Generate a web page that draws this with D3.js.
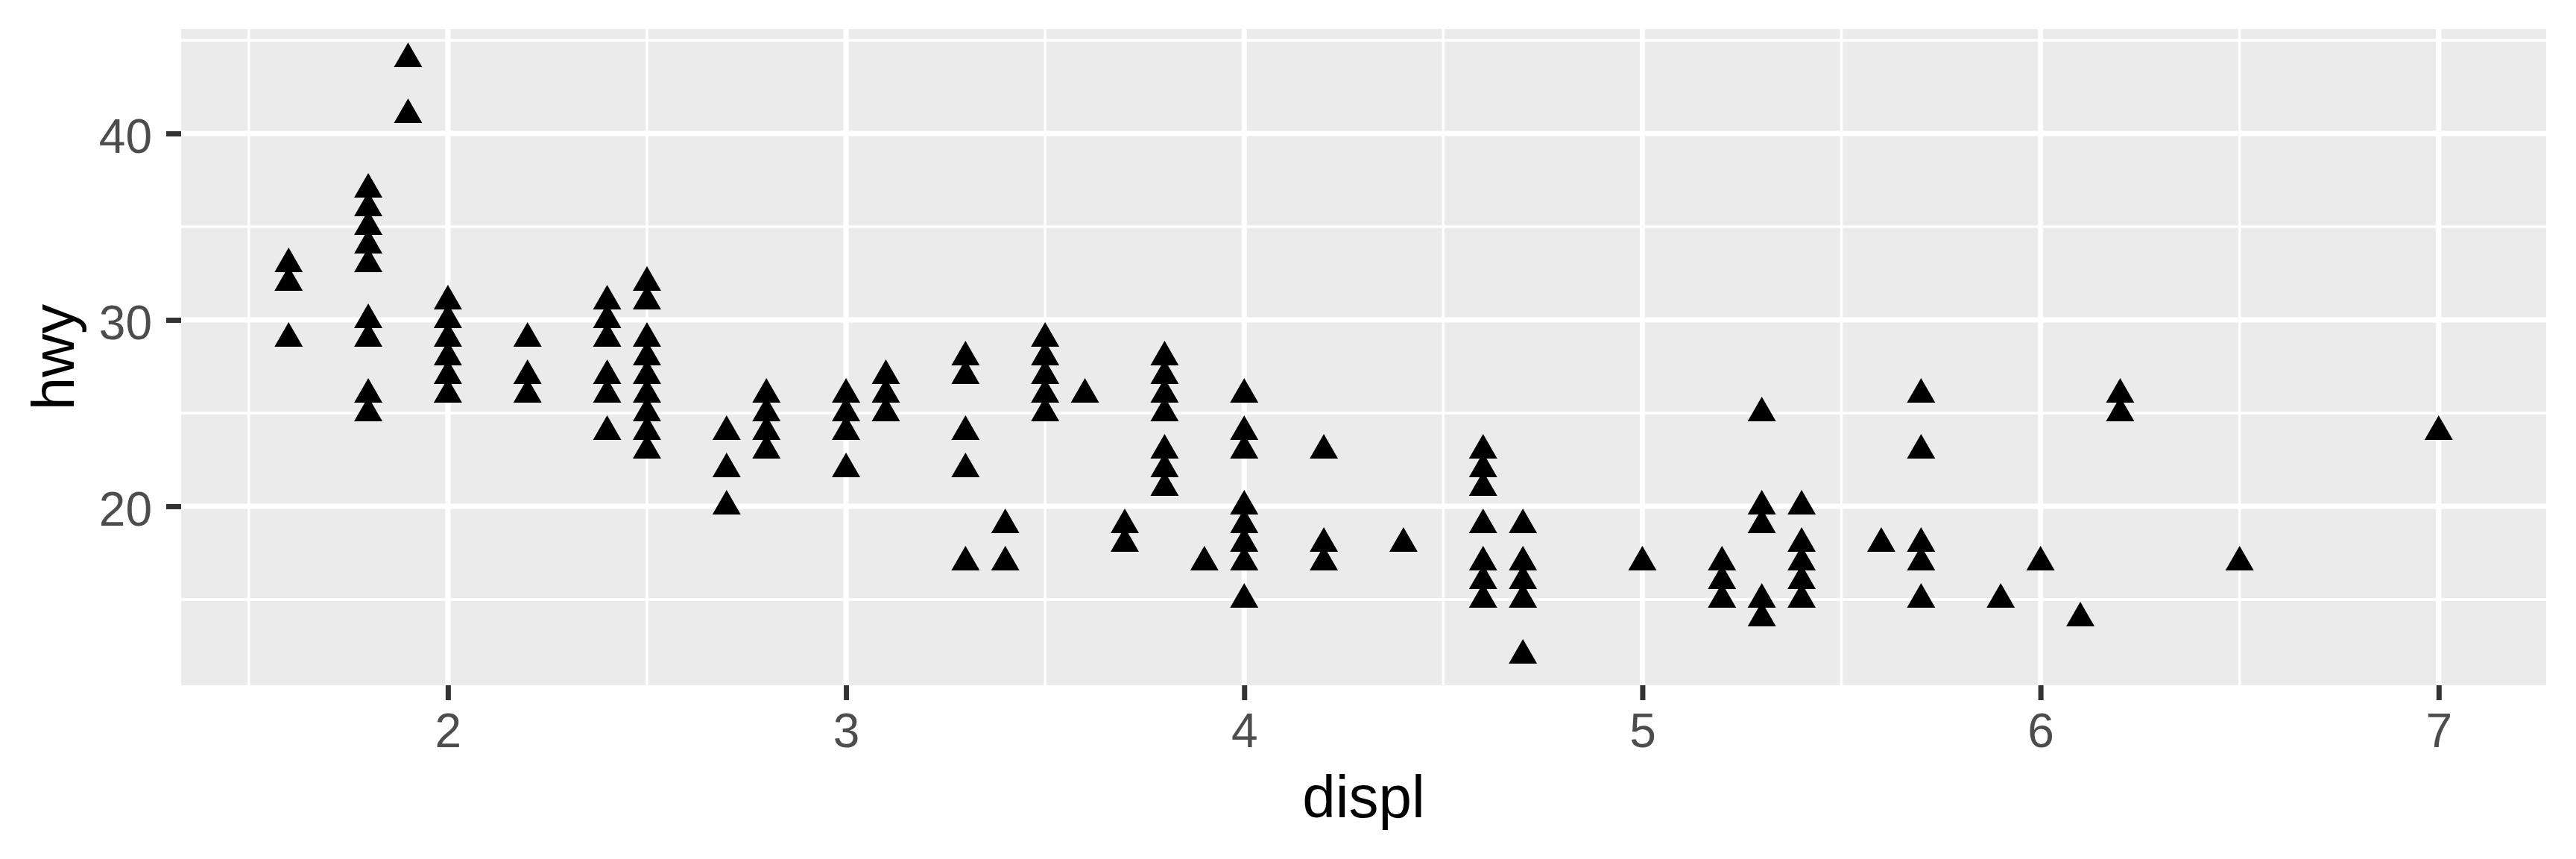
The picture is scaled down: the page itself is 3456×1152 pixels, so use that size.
<!DOCTYPE html>
<html>
<head>
<meta charset="utf-8">
<script src="https://d3js.org/d3.v7.min.js"></script>
<style>
  body { margin: 0; background: #fff; }
  text { font-family: "Liberation Sans", Arial, sans-serif; }
</style>
</head>
<body>
<svg id="chart" width="3456" height="1152"></svg>

<script>
  // points (one entry per visible triangle)
  const displ = [
    1.6, 1.6, 1.6,
    1.8, 1.8, 1.8, 1.8, 1.8, 1.8, 1.8, 1.8, 1.8,
    1.9, 1.9,
    2.0, 2.0, 2.0, 2.0, 2.0, 2.0,
    2.2, 2.2, 2.2,
    2.4, 2.4, 2.4, 2.4, 2.4, 2.4,
    2.5, 2.5, 2.5, 2.5, 2.5, 2.5, 2.5, 2.5, 2.5,
    2.7, 2.7, 2.7,
    2.8, 2.8, 2.8, 2.8,
    3.0, 3.0, 3.0, 3.0,
    3.1, 3.1, 3.1,
    3.3, 3.3, 3.3, 3.3, 3.3,
    3.4, 3.4,
    3.5, 3.5, 3.5, 3.5, 3.5,
    3.6,
    3.7, 3.7,
    3.8, 3.8, 3.8, 3.8, 3.8, 3.8, 3.8,
    3.9,
    4.0, 4.0, 4.0, 4.0, 4.0, 4.0, 4.0, 4.0,
    4.2, 4.2, 4.2,
    4.4,
    4.6, 4.6, 4.6, 4.6, 4.6, 4.6, 4.6,
    4.7, 4.7, 4.7, 4.7, 4.7,
    5.0,
    5.2, 5.2, 5.2,
    5.3, 5.3, 5.3, 5.3, 5.3,
    5.4, 5.4, 5.4, 5.4, 5.4,
    5.6,
    5.7, 5.7, 5.7, 5.7, 5.7,
    5.9,
    6.0,
    6.1,
    6.2, 6.2,
    6.5,
    7.0
  ];
  const hwy = [
    33, 32, 29,
    37, 36, 35, 34, 33, 30, 29, 26, 25,
    44, 41,
    31, 30, 29, 28, 27, 26,
    29, 27, 26,
    31, 30, 29, 27, 26, 24,
    32, 31, 29, 28, 27, 26, 25, 24, 23,
    24, 22, 20,
    26, 25, 24, 23,
    26, 25, 24, 22,
    27, 26, 25,
    28, 27, 24, 22, 17,
    19, 17,
    29, 28, 27, 26, 25,
    26,
    19, 18,
    28, 27, 26, 25, 23, 22, 21,
    17,
    26, 24, 23, 20, 19, 18, 17, 15,
    23, 18, 17,
    18,
    23, 22, 21, 19, 17, 16, 15,
    19, 17, 16, 15, 12,
    17,
    17, 16, 15,
    25, 20, 19, 15, 14,
    20, 18, 17, 16, 15,
    18,
    26, 23, 18, 17, 15,
    15,
    17,
    14,
    26, 25,
    17,
    24
  ];

  const xTicks = [2, 3, 4, 5, 6, 7];
  const xMinor = [1.5, 2.5, 3.5, 4.5, 5.5, 6.5];
  const yTicks = [20, 30, 40];
  const yMinor = [15, 25, 35, 45];

  const svg = d3.select("#chart");
  const panel = { left: 243, right: 3416, top: 39, bottom: 919 };

  // ggplot style 5% expansion of the data range
  function expand(ext) {
    let pad = (ext[1] - ext[0]) * 0.05;
    return [ext[0] - pad, ext[1] + pad];
  }

  const x = d3.scaleLinear()
    .domain(expand(d3.extent(displ)))
    .range([panel.left, panel.right]);
  const y = d3.scaleLinear()
    .domain(expand(d3.extent(hwy)))
    .range([panel.bottom, panel.top]);

  // panel background
  svg.append("rect")
    .attr("x", panel.left)
    .attr("y", panel.top)
    .attr("width", panel.right - panel.left)
    .attr("height", panel.bottom - panel.top)
    .attr("fill", "#EBEBEB");

  // minor grid
  svg.selectAll(".xminor").data(xMinor).enter().append("line")
    .attr("x1", d => x(d)).attr("x2", d => x(d))
    .attr("y1", panel.top).attr("y2", panel.bottom)
    .attr("stroke", "white").attr("stroke-width", 3.4);
  svg.selectAll(".yminor").data(yMinor).enter().append("line")
    .attr("x1", panel.left).attr("x2", panel.right)
    .attr("y1", d => y(d)).attr("y2", d => y(d))
    .attr("stroke", "white").attr("stroke-width", 3.4);

  // major grid
  svg.selectAll(".xmajor").data(xTicks).enter().append("line")
    .attr("x1", d => x(d)).attr("x2", d => x(d))
    .attr("y1", panel.top).attr("y2", panel.bottom)
    .attr("stroke", "white").attr("stroke-width", 7);
  svg.selectAll(".ymajor").data(yTicks).enter().append("line")
    .attr("x1", panel.left).attr("x2", panel.right)
    .attr("y1", d => y(d)).attr("y2", d => y(d))
    .attr("stroke", "white").attr("stroke-width", 7);

  // points
  const tri = d3.symbol().type(d3.symbolTriangle).size(625);
  svg.selectAll(".pt").data(displ).enter().append("path")
    .attr("d", tri)
    .attr("transform", (d, i) => "translate(" + x(d) + "," + y(hwy[i]) + ")")
    .attr("fill", "black");

  // axes
  let xAxis = svg.append("g")
    .attr("transform", "translate(0," + panel.bottom + ")")
    .call(d3.axisBottom(x).tickValues(xTicks).tickSize(20).tickPadding(18).tickFormat(d3.format("d")));
  let yAxis = svg.append("g")
    .attr("transform", "translate(" + panel.left + ",0)")
    .call(d3.axisLeft(y).tickValues(yTicks).tickSize(20).tickPadding(19).tickFormat(d3.format("d")));

  [xAxis, yAxis].forEach(function (g) {
    g.select(".domain").remove();
    g.selectAll(".tick line").attr("stroke", "#333333").attr("stroke-width", 7);
    g.selectAll(".tick text")
      .attr("fill", "#4D4D4D")
      .style("font-size", "64px")
      .style("font-family", "'Liberation Sans', Arial, sans-serif");
  });
  yAxis.selectAll(".tick text").attr("dy", "0.4em");

  // axis titles
  svg.append("text")
    .attr("x", (panel.left + panel.right) / 2)
    .attr("y", 1096)
    .attr("text-anchor", "middle")
    .style("font-size", "80px")
    .attr("fill", "black")
    .text("displ");

  svg.append("text")
    .attr("transform", "translate(99," + (panel.top + panel.bottom) / 2 + ") rotate(-90)")
    .attr("text-anchor", "middle")
    .style("font-size", "80px")
    .attr("fill", "black")
    .text("hwy");
</script>
</body>
</html>
